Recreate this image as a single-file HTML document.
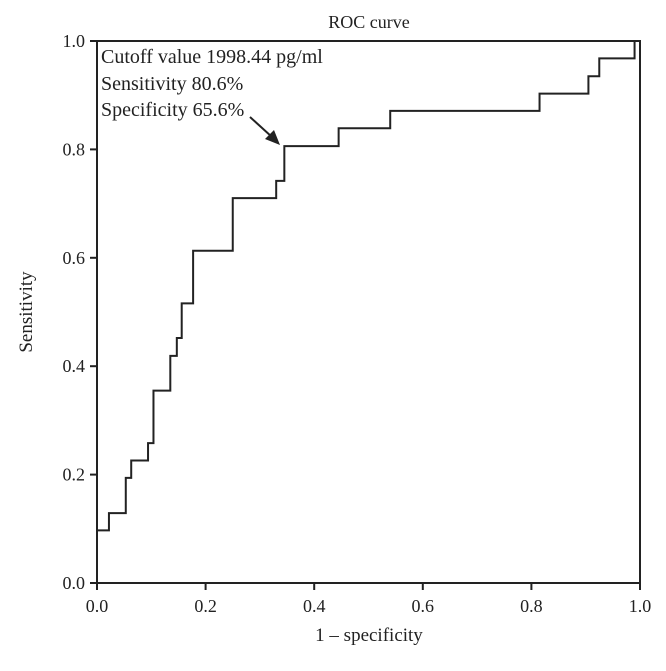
<!DOCTYPE html>
<html><head><meta charset="utf-8"><style>
html,body{margin:0;padding:0;background:#fff}
svg text{font-family:"Liberation Serif",serif;fill:#222}
</style></head><body>
<svg id="chart" width="666" height="666" viewBox="0 0 666 666" xmlns="http://www.w3.org/2000/svg">
<text x="369" y="28" font-size="18" text-anchor="middle">ROC curve</text>
<rect x="97" y="41" width="543" height="542" fill="none" stroke="#222" stroke-width="2"/>
<g id="xticks"></g><g id="yticks"></g>
<text x="369" y="641" font-size="19" text-anchor="middle">1 – specificity</text>
<text transform="translate(32,312) rotate(-90)" font-size="19" text-anchor="middle">Sensitivity</text>
<path id="roc" fill="none" stroke="#222" stroke-width="2"/>
<g font-size="20">
<text x="101" y="63">Cutoff value 1998.44 pg/ml</text>
<text x="101" y="90">Sensitivity 80.6%</text>
<text x="101" y="116">Specificity 65.6%</text>
</g>
<line x1="250" y1="117" x2="272" y2="137" stroke="#222" stroke-width="2"/>
<polygon points="280,145 265,139 274,130" fill="#222"/>
</svg>
<script>
const fprSteps=[0,0.022,0.053,0.063,0.094,0.104,0.135,0.147,0.156,0.177,0.25,0.33,0.345,0.445,0.54,0.815,0.905,0.925,0.99];
const tprSteps=[0.097,0.129,0.194,0.226,0.258,0.355,0.419,0.452,0.516,0.613,0.71,0.742,0.806,0.839,0.871,0.903,0.935,0.968,1.0];
const tickValues=[0,0.2,0.4,0.6,0.8,1.0];
const tickLabels=["0.0","0.2","0.4","0.6","0.8","1.0"];
const X=v=>97+v*543, Y=v=>583-v*542;
const NS="http://www.w3.org/2000/svg";
let d="M"+X(0)+","+Y(0);
for(let i=0;i<fprSteps.length;i++){
  d+=" L"+X(fprSteps[i])+","+(i==0?Y(0):Y(tprSteps[i-1]))+" L"+X(fprSteps[i])+","+Y(tprSteps[i]);
}
d+=" L"+X(1)+","+Y(1);
document.getElementById('roc').setAttribute('d',d);
const xt=document.getElementById('xticks'),yt=document.getElementById('yticks');
tickValues.forEach((v,i)=>{
  let l=document.createElementNS(NS,'line');
  l.setAttribute('x1',X(v));l.setAttribute('x2',X(v));l.setAttribute('y1',583);l.setAttribute('y2',590);
  l.setAttribute('stroke','#222');l.setAttribute('stroke-width','2');
  
  
  xt.appendChild(l);
  let t=document.createElementNS(NS,'text');
  t.setAttribute('x',X(v));t.setAttribute('y',612);t.setAttribute('font-size','18');t.setAttribute('text-anchor','middle');
  t.textContent=tickLabels[i];
  
  
  xt.appendChild(t);
  let m=document.createElementNS(NS,'line');
  m.setAttribute('x1',90);m.setAttribute('x2',97);m.setAttribute('y1',Y(v));m.setAttribute('y2',Y(v));
  m.setAttribute('stroke','#222');m.setAttribute('stroke-width','2');
  
  
  yt.appendChild(m);
  let s=document.createElementNS(NS,'text');
  s.setAttribute('x',85);s.setAttribute('y',Y(v)+6);s.setAttribute('font-size','18');s.setAttribute('text-anchor','end');
  s.textContent=tickLabels[i];
  
  
  yt.appendChild(s);
});
</script>
</body></html>
